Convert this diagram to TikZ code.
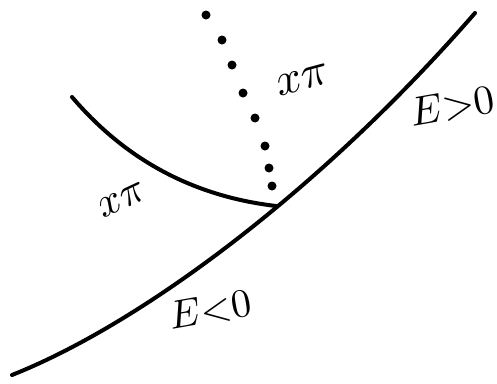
\documentclass[tikz,border=0pt]{standalone}
\usepackage{graphicx}
\usepackage{tikz}

\newcommand{\bigtxt}[2]{\scalebox{#1}{#2}}

\begin{document}
\begin{tikzpicture}[x=1pt, y=-1pt,
    curve/.style={line width=4pt, line cap=round, line join=round},
    dot/.style={circle, fill=black, inner sep=0pt, minimum size=9pt},
    lbl/.style={inner sep=0pt},
]
\useasboundingbox (0,0) rectangle (497,383);

\coordinate (low)  at (12,375);
\coordinate (high) at (475,13);
\coordinate (rim)  at (72,97);
\coordinate (join) at (276,206);

% main curve
\draw[curve] (low) .. controls (150,320) and (330,180) .. (high);

% bowl meeting it
\draw[curve] (rim) .. controls (130,165) and (200,197) .. (join);

% dotted path
\foreach \x/\y [count=\i] in {206/15, 222/40, 232/65, 243/93, 255/118,
    265/146, 269/168, 272/186}
  \node[dot] (d\i) at (\x,\y) {};

\node[lbl, rotate=15] (xtop)  at (303,80)  {\bigtxt{4.6}{$x\pi$}};
\node[lbl, rotate=25] (xleft) at (122,200) {\bigtxt{4.2}{$x\pi$}};
\node[lbl, rotate=10] (epos)  at (452,106) {\bigtxt{4.1}{$E{>}0$}};
\node[lbl, rotate=10] (eneg)  at (210,310) {\bigtxt{4.0}{$E{<}0$}};

\end{tikzpicture}
\end{document}
